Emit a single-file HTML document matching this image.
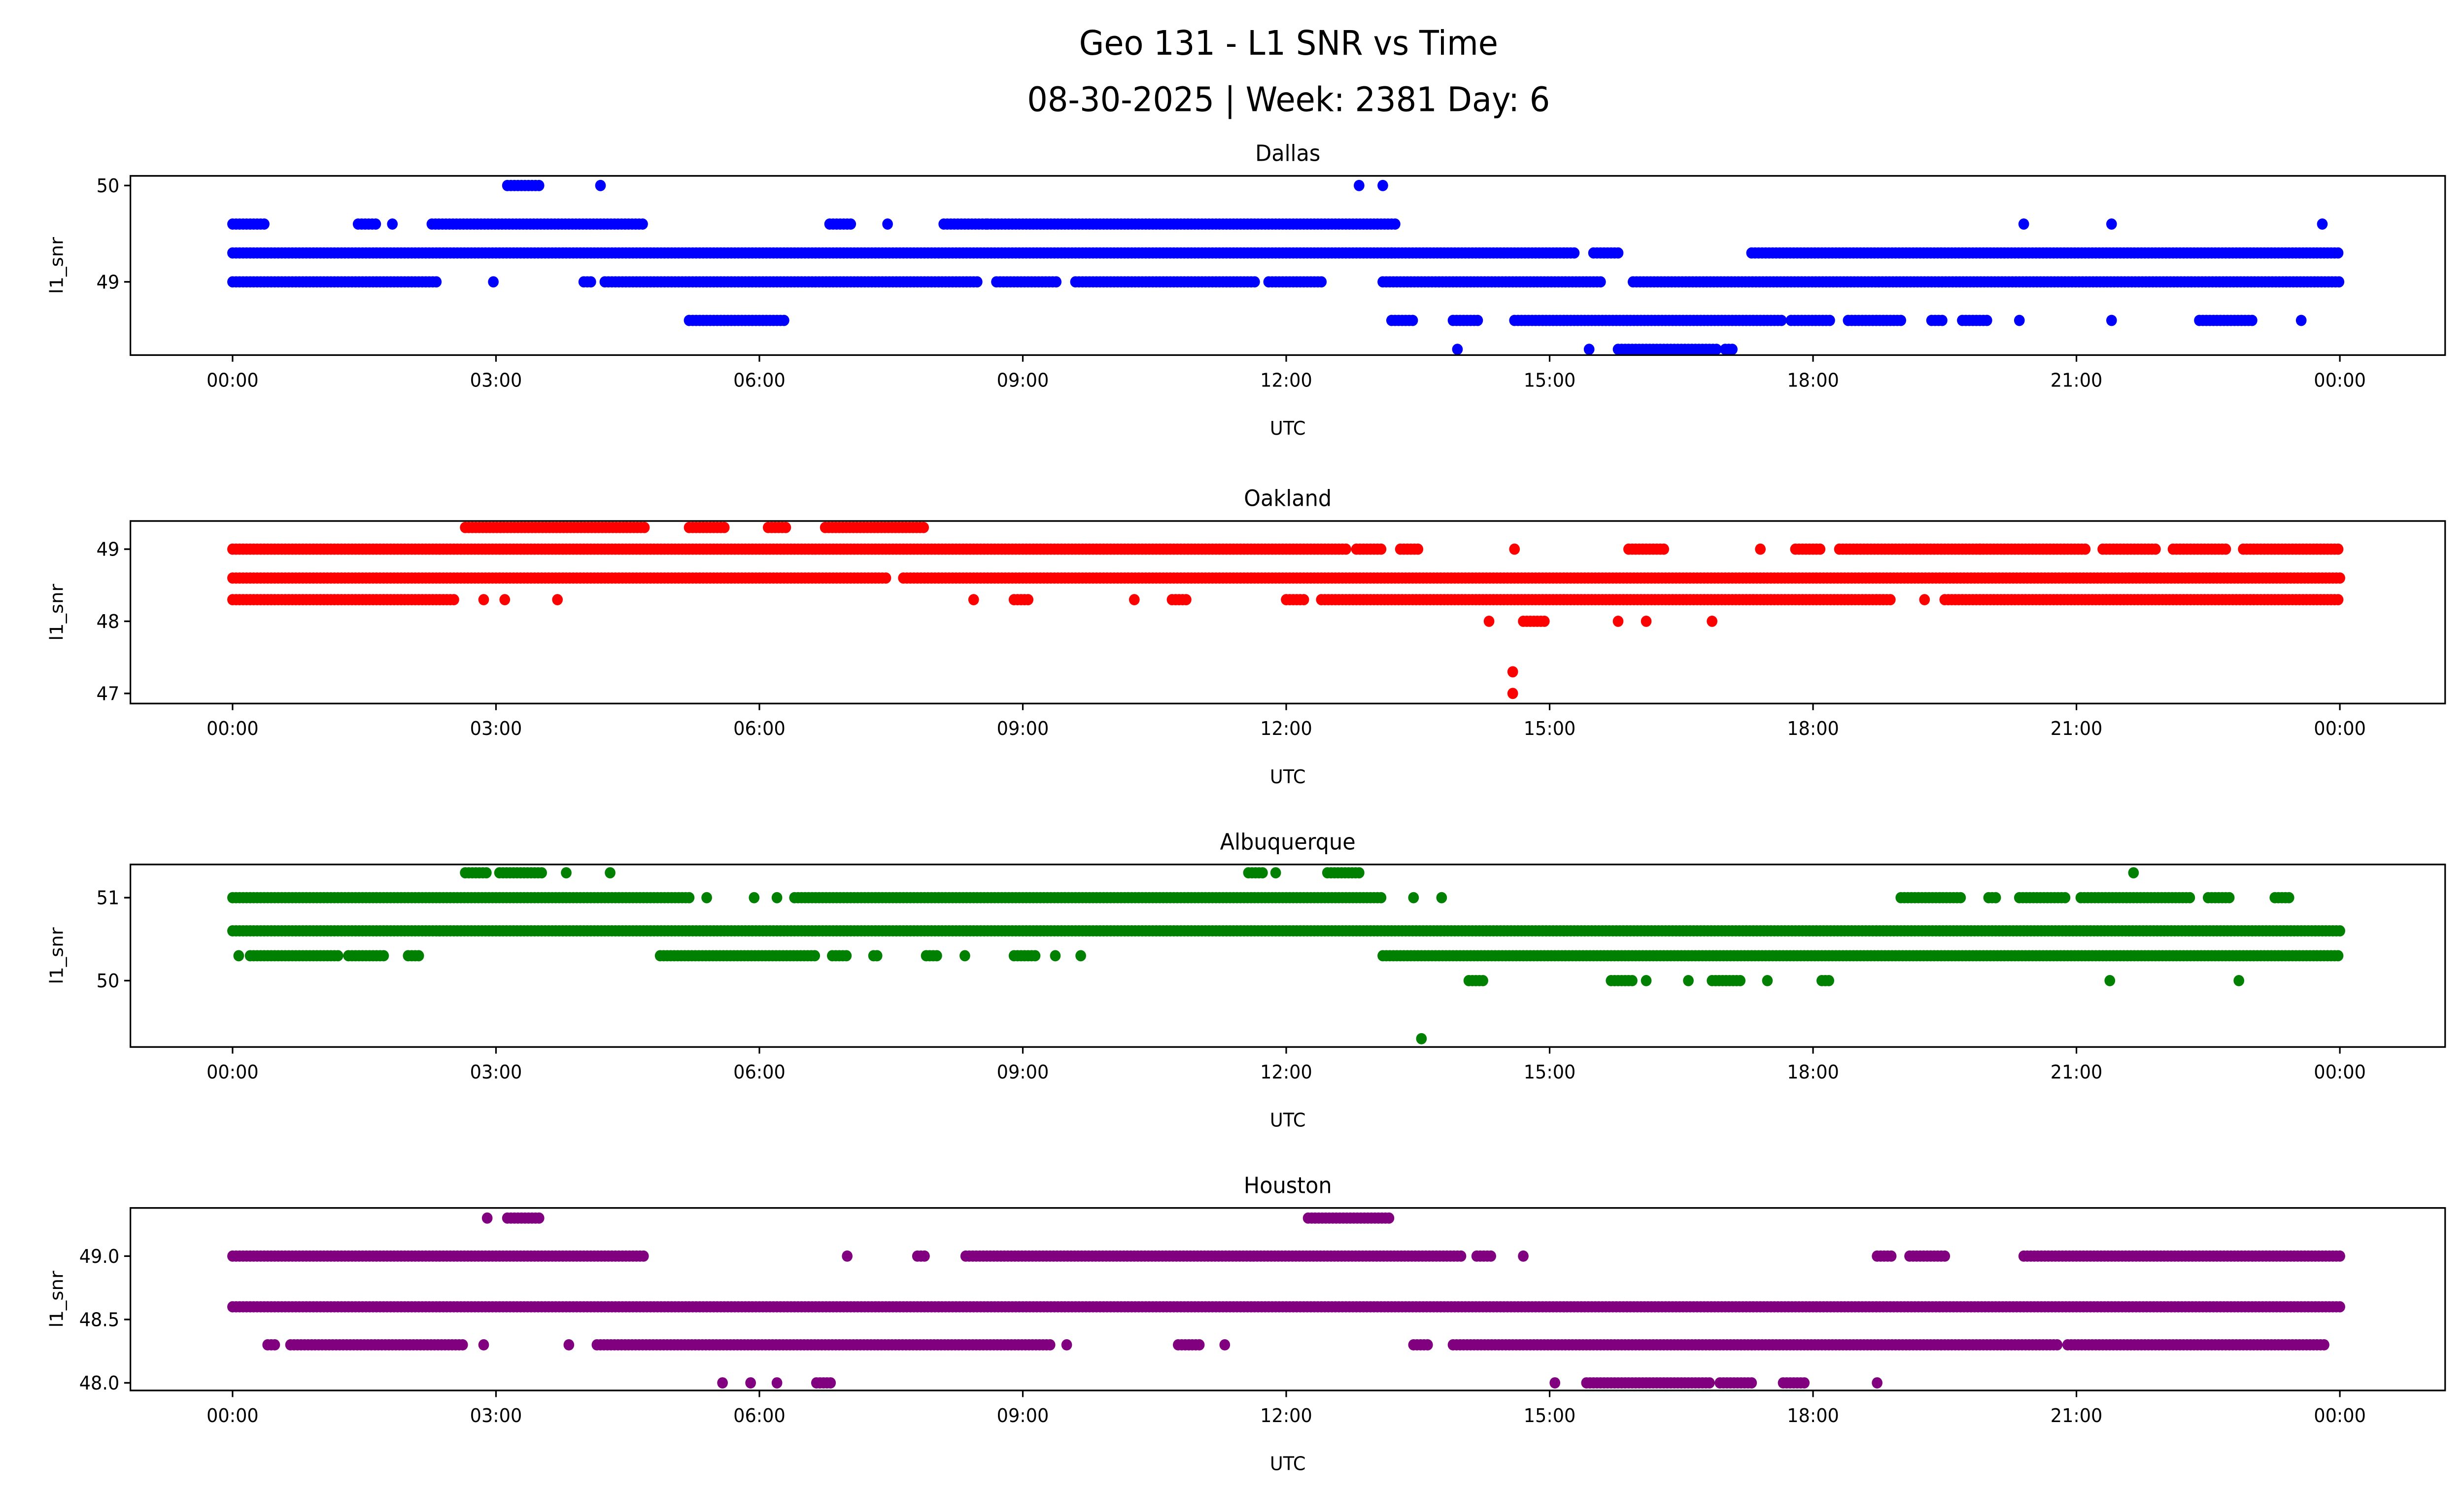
<!DOCTYPE html>
<html><head><meta charset="utf-8"><style>
html,body{margin:0;padding:0;background:#fff;width:100%;height:100%;overflow:hidden}
svg{display:block;position:absolute;left:0;top:0;width:100%;height:100%;font-family:"DejaVu Sans","Liberation Sans",sans-serif}
</style></head><body>
<svg id="fig" viewBox="0 0 1568 901" preserveAspectRatio="none" xmlns="http://www.w3.org/2000/svg">
<rect width="1568" height="901" fill="#fff"/>
<text x="820" y="33" font-size="20.5" text-anchor="middle">Geo 131 - L1 SNR vs Time</text>
<text x="820" y="67" font-size="20.5" text-anchor="middle">08-30-2025 | Week: 2381 Day: 6</text>
<g id="panels"></g>
</svg>
<script>
const xTickLabels = ["00:00","03:00","06:00","09:00","12:00","15:00","18:00","21:00","00:00"];
const xTickHours = [0,3,6,9,12,15,18,21,24];

const dallasLevels = [50, 49.6, 49.3, 49.0, 48.6, 48.3];
const dallasRanges = [
 [[3.13,3.5],[4.19,4.19],[12.83,12.83],[13.1,13.1]],
 [[0,0.36],[1.43,1.65],[1.82,1.82],[2.27,4.7],[6.8,7.05],[7.46,7.46],[8.1,8.6],[8.6,13.27],[20.4,20.4],[21.4,21.4],[23.8,23.8]],
 [[0,13.2],[13.2,15.3],[15.5,15.8],[17.3,24]],
 [[0,2.33],[2.97,2.97],[4.0,4.1],[4.24,8.5],[8.7,9.4],[9.6,11.66],[11.8,12.4],[13.1,15.6],[15.95,24]],
 [[5.2,6.3],[13.2,13.45],[13.9,14.2],[14.6,17.66],[17.75,18.2],[18.4,19.0],[19.35,19.5],[19.7,20.0],[20.35,20.35],[21.4,21.4],[22.4,23.0],[23.56,23.56]],
 [[13.95,13.95],[15.45,15.45],[15.78,16.9],[17.0,17.1]]
];
const dallasTicks = [49, 50];

const oaklandLevels = [49.3, 49.0, 48.6, 48.3, 48.0, 47.3, 47.0];
const oaklandRanges = [
 [[2.65,4.69],[5.2,5.6],[6.1,6.3],[6.75,7.9]],
 [[0,12.7],[12.8,13.1],[13.3,13.5],[14.6,14.6],[15.9,16.3],[17.4,17.4],[17.8,18.1],[18.3,19.9],[19.9,21.1],[21.3,21.9],[22.1,22.7],[22.9,24]],
 [[0,7.46],[7.64,24]],
 [[0,2.54],[2.86,2.86],[3.1,3.1],[3.7,3.7],[8.44,8.44],[8.9,9.07],[10.27,10.27],[10.7,10.86],[12.0,12.2],[12.4,18.9],[19.27,19.27],[19.5,24]],
 [[14.31,14.31],[14.7,14.97],[15.78,15.78],[16.1,16.1],[16.85,16.85]],
 [[14.58,14.58]],
 [[14.58,14.58]]
];
const oaklandTicks = [47, 48, 49];

const albuqLevels = [51.3, 51.0, 50.6, 50.3, 50.0, 49.3];
const albuqRanges = [
 [[2.65,2.9],[3.04,3.52],[3.8,3.8],[4.3,4.3],[11.57,11.75],[11.88,11.88],[12.47,12.83],[21.65,21.65]],
 [[0,5.22],[5.4,5.4],[5.94,5.94],[6.2,6.2],[6.4,13.1],[13.45,13.45],[13.77,13.77],[19.0,19.7],[20.0,20.1],[20.35,20.9],[21.05,22.3],[22.5,22.75],[23.26,23.44]],
 [[0,24]],
 [[0.07,0.07],[0.2,1.2],[1.32,1.74],[2.0,2.15],[4.87,6.65],[6.83,7.0],[7.3,7.35],[7.9,8.05],[8.34,8.34],[8.9,9.16],[9.37,9.37],[9.66,9.66],[13.1,24]],
 [[14.08,14.26],[15.7,15.96],[16.1,16.1],[16.58,16.58],[16.85,17.2],[17.48,17.48],[18.1,18.2],[21.38,21.38],[22.85,22.85]],
 [[13.54,13.54]]
];
const albuqTicks = [50, 51];

const houstonLevels = [49.3, 49.0, 48.6, 48.3, 48.0];
const houstonRanges = [
 [[2.9,2.9],[3.13,3.5],[12.25,13.2]],
 [[0,4.7],[7.0,7.0],[7.8,7.9],[8.35,14.0],[14.17,14.35],[14.7,14.7],[18.73,18.9],[19.1,19.53],[20.4,24]],
 [[0,24]],
 [[0.4,0.48],[0.66,2.63],[2.86,2.86],[3.83,3.83],[4.15,9.34],[9.5,9.5],[10.77,11.04],[11.3,11.3],[13.45,13.63],[13.9,20.8],[20.9,23.83]],
 [[5.58,5.58],[5.9,5.9],[6.2,6.2],[6.65,6.83],[15.06,15.06],[15.42,16.85],[16.94,17.3],[17.66,17.92],[18.73,18.73]]
];
const houstonTicks = [48.0, 48.5, 49.0];

const panels = [
 {name:"dallas", title:"Dallas", color:"#0000ff", top:106, bottom:214, ymax:50.1, ymin:48.24, levels:dallasLevels, ranges:dallasRanges, ticks:dallasTicks, dec:0},
 {name:"oakland", title:"Oakland", color:"#ff0000", top:314, bottom:424, ymax:49.39, ymin:46.86, levels:oaklandLevels, ranges:oaklandRanges, ticks:oaklandTicks, dec:0},
 {name:"albuquerque", title:"Albuquerque", color:"#008000", top:521, bottom:631, ymax:51.4, ymin:49.2, levels:albuqLevels, ranges:albuqRanges, ticks:albuqTicks, dec:0},
 {name:"houston", title:"Houston", color:"#800080", top:728, bottom:838, ymax:49.38, ymin:47.94, levels:houstonLevels, ranges:houstonRanges, ticks:houstonTicks, dec:1}
];
const NS="http://www.w3.org/2000/svg";
const L=83, R=1556;
function xs(h){return 148 + h*(1489-148)/24;}
function mk(tag, attrs, parent){const e=document.createElementNS(NS,tag);for(const k in attrs)e.setAttribute(k,attrs[k]);parent.appendChild(e);return e;}
const root=document.getElementById('panels');
panels.forEach(p=>{
 const g=mk('g',{},root);
 
 
 const ys=v=>p.top+(p.ymax-v)/(p.ymax-p.ymin)*(p.bottom-p.top);
 const pts=mk('g',{fill:p.color},g);
 
 
 p.levels.forEach((lv,i)=>{
  p.ranges[i].forEach(r=>{
   for(let h=r[0]; h<=r[1]+1e-9; h+=0.04){
    const c=mk('circle',{cx:xs(h).toFixed(2),cy:ys(lv).toFixed(2),r:3.4},pts);
    
    
   }
  });
 });
 const frame=mk('rect',{x:L,y:p.top,width:R-L,height:p.bottom-p.top,fill:'none',stroke:'#000','stroke-width':1},g);
 
 
 xTickHours.forEach((h,i)=>{
  const x=xs(h);
  mk('line',{x1:x,x2:x,y1:p.bottom,y2:p.bottom+4,stroke:'#000','stroke-width':1},g);
  const t=mk('text',{x:x,y:p.bottom+19,'font-size':11.5,'text-anchor':'middle'},g);
  t.textContent=xTickLabels[i];
  
  
 });
 p.ticks.forEach(v=>{
  const y=ys(v);
  mk('line',{x1:L-4,x2:L,y1:y,y2:y,stroke:'#000','stroke-width':1},g);
  const t=mk('text',{x:L-7,y:y+4,'font-size':11.5,'text-anchor':'end'},g);
  t.textContent=v.toFixed(p.dec);
  
  
 });
 const tt=mk('text',{x:(L+R)/2,y:p.top-9,'font-size':13.5,'text-anchor':'middle'},g);
 tt.textContent=p.title;
 
 
 const xl=mk('text',{x:(L+R)/2,y:p.bottom+48,'font-size':11.5,'text-anchor':'middle'},g);
 xl.textContent="UTC";
 
 
 const cy=(p.top+p.bottom)/2;
 const yl=mk('text',{x:0,y:0,'font-size':11.5,'text-anchor':'middle',transform:`translate(40,${cy}) rotate(-90)`},g);
 yl.textContent="l1_snr";
 
 
});
</script>
</body></html>
